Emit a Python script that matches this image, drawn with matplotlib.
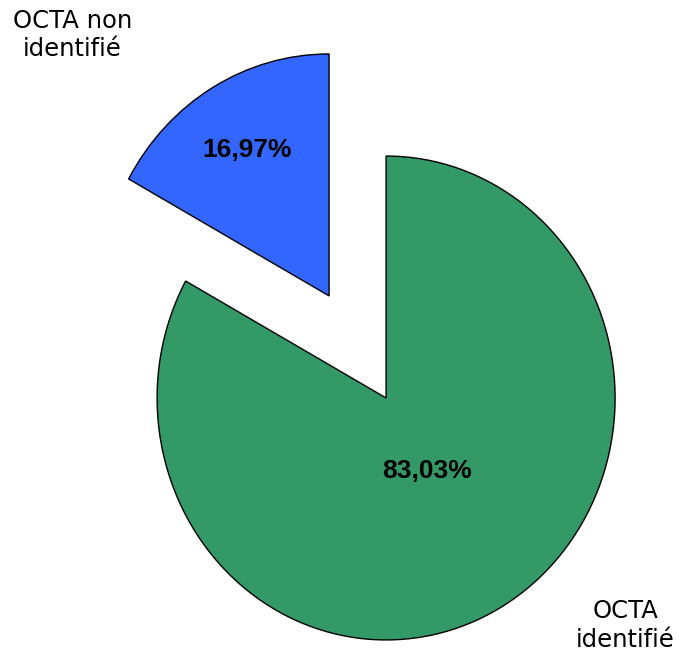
import matplotlib.pyplot as plt
import numpy as np

# data
categories = ["OCTA non\nidentifié", "OCTA\nidentifié"]
shares = [16.97, 83.03]
colors = ["#3366FF", "#339966"]

fig = plt.figure(figsize=(6.79, 6.61), dpi=100)
ax = fig.add_axes([0, 0, 1, 1])

wedges, _ = ax.pie(shares, colors=colors, startangle=90, counterclock=True,
                   explode=[0.49, 0.0], radius=1.0,
                   wedgeprops=dict(edgecolor="black", linewidth=1.0))

# the original is slightly stretched vertically
ax.set_aspect("auto")
ax.set_xlim(-1.686, 1.279)
ax.set_ylim(-1.087, 1.645)

# percentage labels inside each wedge
pct_dist = [0.70, 0.35]
for w, val, d in zip(wedges, shares, pct_dist):
    mid = np.deg2rad((w.theta1 + w.theta2) / 2)
    cx, cy = w.center
    ax.text(cx + d * np.cos(mid), cy + d * np.sin(mid),
            f"{val:.2f}%".replace(".", ","),
            ha="center", va="center", fontsize=19, fontweight="bold",
            family="Liberation Sans")

# category labels
ax.text(-1.371, 1.50, categories[0], ha="center", va="center",
        fontsize=17.5, linespacing=1.25, family="DejaVu Sans")
ax.text(1.044, -0.94, categories[1], ha="center", va="center",
        fontsize=17.5, linespacing=1.25, family="DejaVu Sans")

plt.savefig("out.png", dpi=100)
